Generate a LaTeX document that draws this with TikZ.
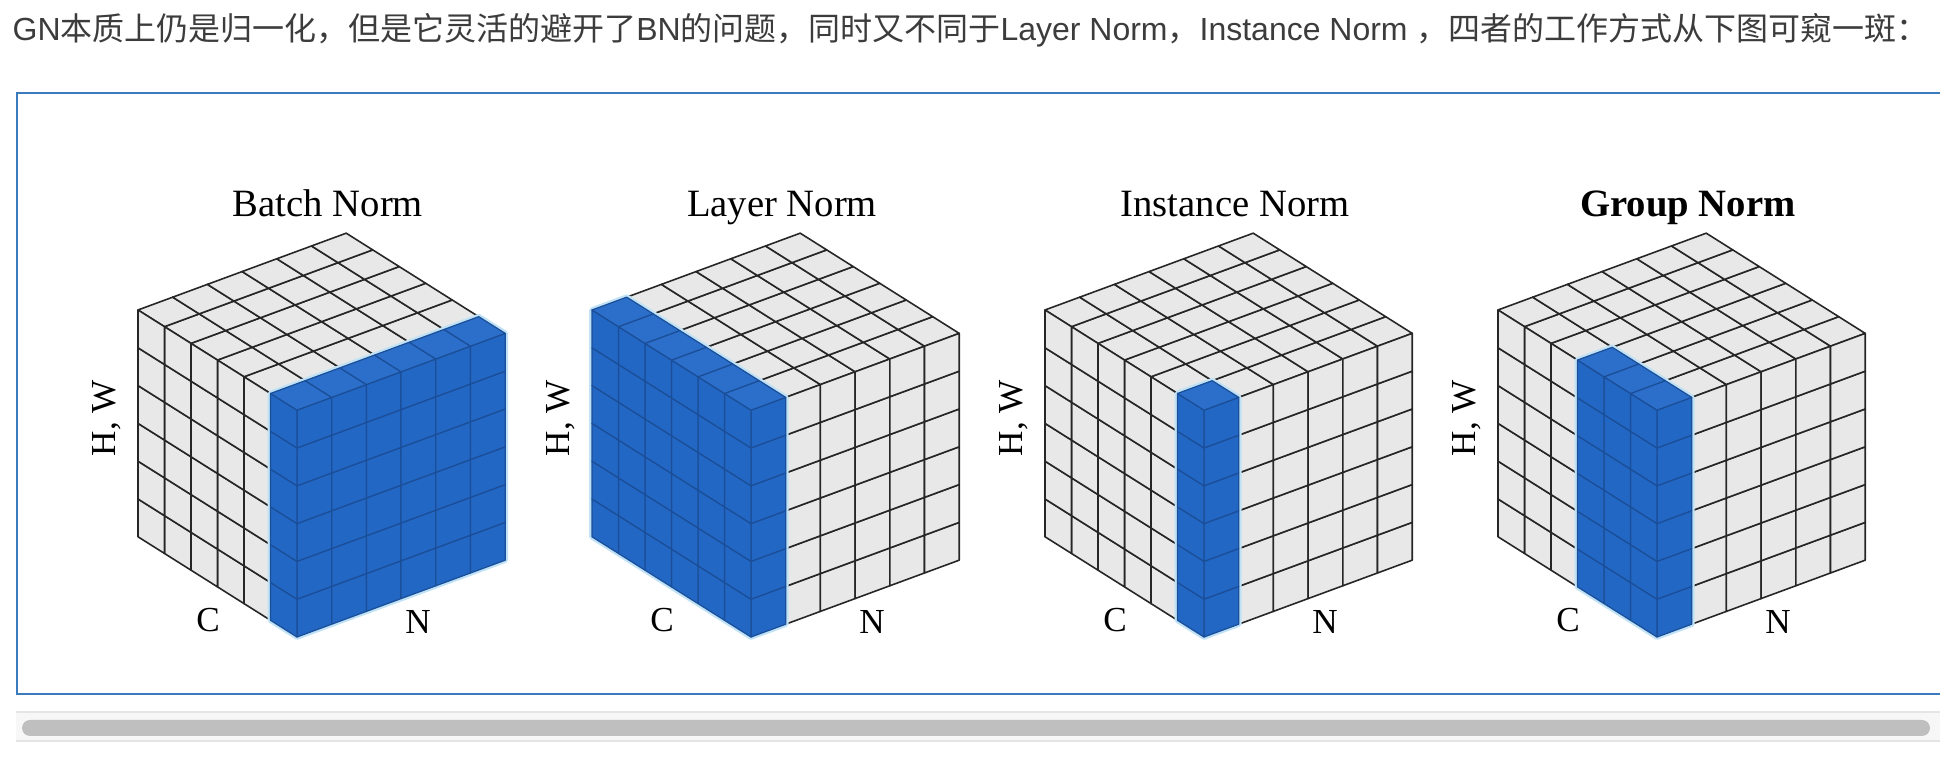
\documentclass[tikz,border=0pt]{standalone}
\usepackage{fontspec}
\setmainfont{Liberation Serif}
\newfontfamily\zhfont{Noto Sans CJK SC}
\newfontfamily\enfont{Liberation Sans}
\usepackage{tikz}
\usetikzlibrary{positioning}

\definecolor{cellgray}{HTML}{E8E8E8}
\definecolor{normblue}{HTML}{2267C3}
\definecolor{topblue}{HTML}{2C6FCA}
\definecolor{blueline}{HTML}{1B4E98}
\definecolor{halocol}{HTML}{BFE2F6}
\definecolor{framecol}{HTML}{3B7BBD}
\definecolor{introcol}{HTML}{3C3C3C}

\tikzset{
  cell/.style={fill=cellgray, draw=black!85, line width=0.45pt, line join=round},
  bluecell/.style={fill=normblue, draw=blueline, line width=0.35pt, line join=round},
  bluetop/.style={fill=topblue, draw=blueline, line width=0.35pt, line join=round},
  halo/.style={draw=halocol, line width=1.6pt, line join=round},
  normtitle/.style={font=\fontsize{11}{13}\selectfont, anchor=base},
  axislabel/.style={font=\fontsize{10}{12}\selectfont},
}

% one cube: #1 name, #2 x of front corner, #3 blue cells along N, #4 blue cells along C, #5 title
\newcommand{\normcube}[5]{%
  \begin{scope}[shift={(#2,1.23)}, x={(0.347cm,0.128cm)}, y={(-0.265cm,0.167cm)}, z={(0cm,0.378cm)}]
    % grey cells on the three faces
    \foreach \i in {0,...,5}{
      \foreach \k in {0,...,5}{
        \draw[cell] (\i,0,\k) -- ++(1,0,0) -- ++(0,0,1) -- ++(-1,0,0) -- cycle;
        \draw[cell] (0,\i,\k) -- ++(0,1,0) -- ++(0,0,1) -- ++(0,-1,0) -- cycle;
        \draw[cell] (\i,\k,6) -- ++(1,0,0) -- ++(0,1,0) -- ++(-1,0,0) -- cycle;
      }
    }
    % normalized block
    \draw[halo] (0,0,0) -- (#3,0,0) -- (#3,0,6) -- (#3,#4,6) -- (0,#4,6) -- (0,#4,0) -- cycle;
    \foreach \k in {0,...,5}{
      \foreach \i in {1,...,#3}
        \draw[bluecell] (\i-1,0,\k) -- ++(1,0,0) -- ++(0,0,1) -- ++(-1,0,0) -- cycle;
      \foreach \j in {1,...,#4}
        \draw[bluecell] (0,\j-1,\k) -- ++(0,1,0) -- ++(0,0,1) -- ++(0,-1,0) -- cycle;
    }
    \foreach \i in {1,...,#3}
      \foreach \j in {1,...,#4}
        \draw[bluetop] (\i-1,\j-1,6) -- ++(1,0,0) -- ++(0,1,0) -- ++(-1,0,0) -- cycle;
    \coordinate (#1-front) at (0,0,0);
  \end{scope}
  \node[normtitle] (#1-title) at ([shift={(0.31,4.20)}]#1-front) {#5};
  \node[axislabel, rotate=90] (#1-hw) at ([shift={(-1.90,2.19)}]#1-front) {H, W};
  \node[axislabel, anchor=base] (#1-c) at ([shift={(-0.89,0.05)}]#1-front) {C};
  \node[axislabel, anchor=base] (#1-n) at ([shift={(1.21,0.03)}]#1-front) {N};
}

\begin{document}
\begin{tikzpicture}
\useasboundingbox (0,0) rectangle (19.6,7.6);
% intro line
\node[anchor=base west, inner sep=0pt, text=introcol, font=\fontsize{9.1}{11}\selectfont] (intro) at (0.12,7.19)
  {\enfont GN\zhfont 本质上仍是归一化，但是它灵活的避开了\enfont BN\zhfont 的问题，同时又不同于\enfont Layer Norm\zhfont ，\enfont Instance Norm \zhfont ，四者的工作方式从下图可窥一斑：};
% frame
\draw[framecol, line width=0.6pt] (19.40,6.67) -- (0.17,6.67) -- (0.17,0.66) -- (19.40,0.66);
% the four cubes
\normcube{bn}{2.97}{6}{1}{Batch Norm}
\normcube{ln}{7.51}{1}{6}{Layer Norm}
\normcube{in}{12.04}{1}{1}{Instance Norm}
\normcube{gn}{16.57}{1}{3}{\textbf{Group Norm}}
% scrollbar
\fill[black!3] (0.16,0.19) rectangle (19.40,0.48);
\draw[black!10, line width=0.5pt] (0.16,0.48) -- (19.40,0.48);
\draw[black!10, line width=0.5pt] (0.16,0.19) -- (19.40,0.19);
\fill[black!25, rounded corners=0.08cm] (0.22,0.24) rectangle (19.30,0.40);
\end{tikzpicture}
\end{document}
